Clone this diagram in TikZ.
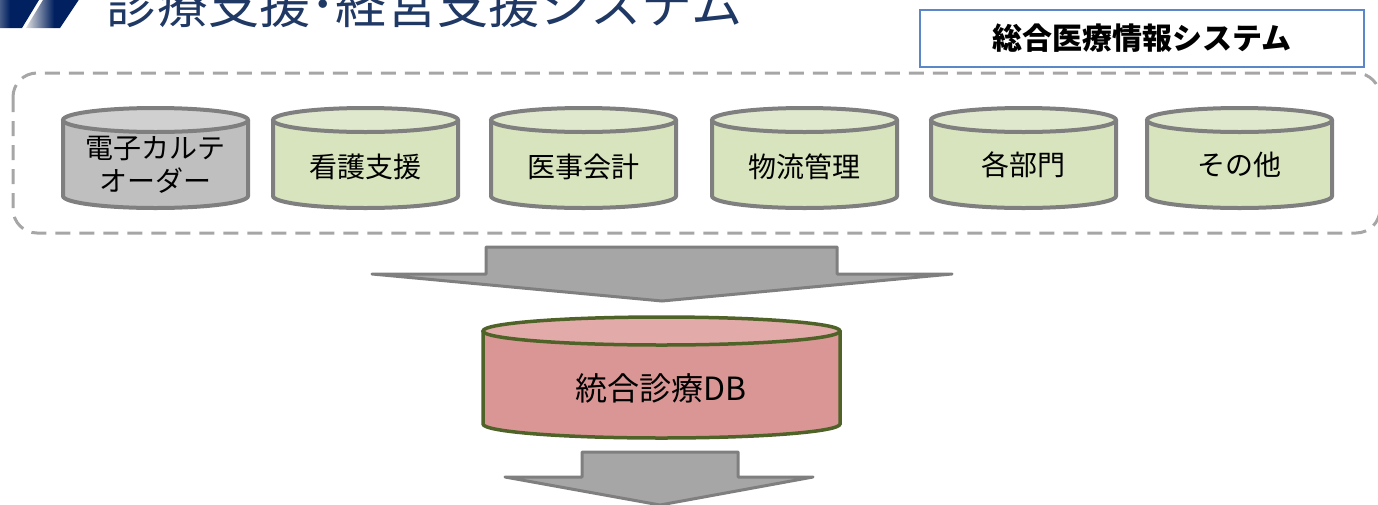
\documentclass[tikz,border=0pt]{standalone}
\usepackage{fontspec}
\newfontfamily\cjk{Noto Sans CJK JP}
\setmainfont{Noto Sans CJK JP}
\definecolor{titlenavy}{HTML}{1F3864}
\definecolor{iconnavy}{HTML}{002060}
\definecolor{boxblue}{HTML}{5B86C8}
\definecolor{dashgray}{HTML}{A6A6A6}
\definecolor{cylstroke}{HTML}{7F7F7F}
\definecolor{greenbody}{HTML}{D7E4BD}
\definecolor{greentop}{HTML}{DFE8CC}
\definecolor{graybody}{HTML}{BFBFBF}
\definecolor{graytop}{HTML}{D0D0D0}
\definecolor{dbbody}{HTML}{D99694}
\definecolor{dbtop}{HTML}{E2ABAA}
\definecolor{dbstroke}{HTML}{4F6228}
\definecolor{arrowfill}{HTML}{A6A6A6}
\newcommand\mycyl[9]{%
  % #1 left, #2 right, #3 top centre y, #4 bottom centre y, #5 ry, #6 body, #7 top, #8 stroke, #9 width
  \pgfmathsetmacro\cylrx{(#2-#1)/2}%
  \pgfmathsetmacro\cylcx{(#2+#1)/2}%
  \fill[#6] (#1,#3) -- (#1,#4) arc[start angle=180,end angle=360,x radius=\cylrx pt,y radius=#5pt]
     -- (#2,#3) arc[start angle=0,end angle=180,x radius=\cylrx pt,y radius=#5pt] -- cycle;
  \draw[#8,line width=#9] (#1,#3) -- (#1,#4) arc[start angle=180,end angle=360,x radius=\cylrx pt,y radius=#5pt] -- (#2,#3);
  \draw[#8,line width=#9,fill=#7] (\cylcx,#3) ellipse[x radius=\cylrx pt,y radius=#5pt];
}
\tikzset{
  cyltext/.style={inner sep=0pt,align=center,text=black,font=\cjk\fontsize{28}{33}\selectfont},
  blockarrow/.style={fill=arrowfill,draw=cylstroke,line width=3pt,line join=round,line cap=round},
}
\begin{document}
\begin{tikzpicture}[x=1pt,y=-1pt]
\useasboundingbox (0,0) rectangle (1378,504);
\clip (0,0) rectangle (1378,504);
% icon stripes
\shade[left color=gray!25,right color=iconnavy,middle color=iconnavy] (-22,28) -- (22,28) -- (42,-5) -- (-2,-5) -- cycle;
\shade[left color=gray!25,right color=iconnavy,middle color=iconnavy] (26,28) -- (60,28) -- (82,-5) -- (46,-5) -- cycle;
% title
\node[anchor=base west,inner sep=0pt,text=titlenavy,font=\cjk\fontsize{51}{51}\selectfont] (title) at (106,23) {診療支援･経営支援システム};
% system box
\node[draw=boxblue,line width=1.5pt,fill=white,minimum width=444pt,minimum height=57pt,inner sep=0pt,
      font=\cjk\bfseries\fontsize{30}{30}\selectfont] (sysbox) at (1142,38.5) {総合医療情報システム};
% dashed group
\draw[dashgray,line width=3pt,dash pattern=on 15pt off 9pt,rounded corners=24pt] (13,73) rectangle (1380,233);
% cylinders
\mycyl{63}{248}{120}{196}{12}{graybody}{graytop}{cylstroke}{4pt}
\mycyl{273}{458}{120}{196}{12}{greenbody}{greentop}{cylstroke}{4pt}
\mycyl{491}{676}{120}{196}{12}{greenbody}{greentop}{cylstroke}{4pt}
\mycyl{712}{897}{120}{196}{12}{greenbody}{greentop}{cylstroke}{4pt}
\mycyl{931}{1116}{120}{196}{12}{greenbody}{greentop}{cylstroke}{4pt}
\mycyl{1147}{1332}{120}{196}{12}{greenbody}{greentop}{cylstroke}{4pt}
\node[cyltext] (c1) at (155.5,165) {電子カルテ\\オーダー};
\node[cyltext] (c2) at (365.5,167) {看護支援};
\node[cyltext] (c3) at (583.5,167) {医事会計};
\node[cyltext] (c4) at (804.5,167) {物流管理};
\node[cyltext] (c5) at (1023.5,165) {各部門};
\node[cyltext] (c6) at (1239.5,165) {その他};
% arrow 1
\draw[blockarrow] (486,247) -- (837,247) -- (837,274) -- (952,274) -- (662,301) -- (372,274) -- (486,274) -- cycle;
% DB
\mycyl{483}{840}{331}{424}{14}{dbbody}{dbtop}{dbstroke}{3.5pt}
\node[cyltext,font=\cjk\fontsize{32}{32}\selectfont] (db) at (661,388) {統合診療DB};
% arrow 2
\draw[blockarrow] (582,452) -- (738,452) -- (738,477) -- (813,477) -- (660,505) -- (505,477) -- (582,477) -- cycle;
\end{tikzpicture}
\end{document}
